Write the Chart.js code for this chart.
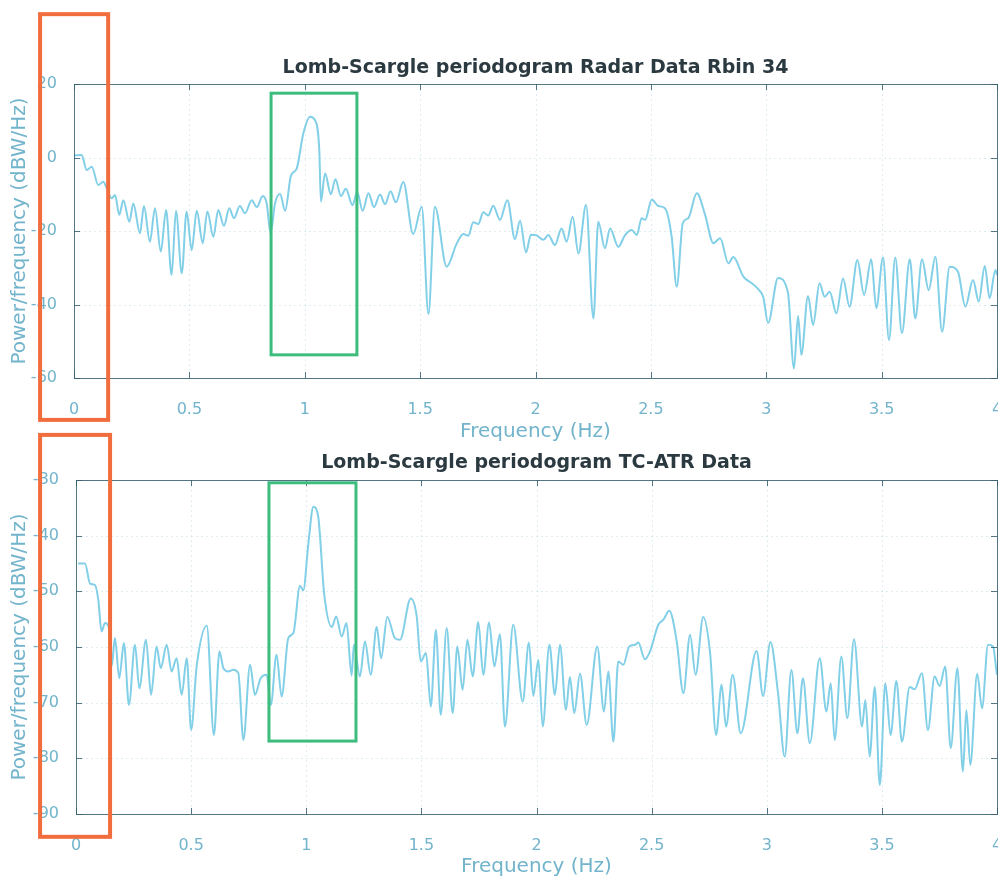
<!DOCTYPE html>
<html>
<head>
<meta charset="utf-8">
<title>Lomb-Scargle periodogram</title>
<script src="https://cdn.jsdelivr.net/npm/chart.js@4.4.1/dist/chart.umd.min.js"></script>
<style>
  html, body { margin: 0; padding: 0; background: #fff; }
  #wrap { position: relative; width: 998px; height: 877px; overflow: hidden; }
  #wrap canvas { position: absolute; left: 0; top: 0; }
</style>
</head>
<body>
<div id="wrap">
  <canvas id="radarChart" width="998" height="877"></canvas>
  <canvas id="atrChart" width="998" height="877"></canvas>
</div>
<script>
// Radar data, range bin 34 (Hz, dBW/Hz)
const radarFreq = [
  0.000, 0.033, 0.055, 0.077, 0.105, 0.127, 0.142, 0.163, 0.178, 0.196,
  0.214, 0.240, 0.257, 0.286, 0.303, 0.329, 0.351, 0.376, 0.399, 0.423,
  0.442, 0.467, 0.488, 0.510, 0.532, 0.558, 0.578, 0.604, 0.625, 0.650,
  0.673, 0.693, 0.719, 0.741, 0.770, 0.792, 0.818, 0.835, 0.852, 0.871,
  0.893, 0.915, 0.940, 0.965, 0.994, 1.023, 1.044, 1.063, 1.070, 1.088,
  1.113, 1.133, 1.157, 1.178, 1.207, 1.227, 1.251, 1.276, 1.300, 1.326,
  1.348, 1.372, 1.395, 1.427, 1.470, 1.507, 1.536, 1.564, 1.615, 1.658,
  1.687, 1.709, 1.730, 1.752, 1.774, 1.795, 1.817, 1.846, 1.878, 1.911,
  1.933, 1.959, 1.980, 2.005, 2.034, 2.056, 2.084, 2.113, 2.135, 2.161,
  2.186, 2.219, 2.251, 2.272, 2.301, 2.323, 2.359, 2.388, 2.417, 2.439,
  2.460, 2.475, 2.504, 2.532, 2.561, 2.590, 2.612, 2.638, 2.662, 2.699,
  2.735, 2.771, 2.800, 2.836, 2.857, 2.901, 2.937, 2.966, 2.987, 3.008,
  3.051, 3.094, 3.120, 3.138, 3.152, 3.181, 3.203, 3.231, 3.253, 3.275,
  3.304, 3.333, 3.361, 3.395, 3.424, 3.455, 3.477, 3.506, 3.532, 3.559,
  3.588, 3.622, 3.646, 3.675, 3.704, 3.733, 3.762, 3.795, 3.831, 3.863,
  3.896, 3.921, 3.947, 3.968, 3.993, 4.000
];
const radarPower = [
  0.5, 0.7, -3.4, -2.5, -7.5, -6.6, -8.4, -11.1, -10.2, -15.6,
  -11.6, -17.5, -12.5, -20.6, -13.2, -22.9, -13.8, -25.6, -14.3, -32.0,
  -14.5, -31.5, -14.7, -25.2, -14.5, -23.3, -14.7, -21.6, -14.3, -18.6,
  -13.8, -16.5, -13.2, -15.2, -11.6, -13.5, -10.5, -12.5, -20.6, -12.5,
  -9.9, -14.5, -5.0, -3.0, 6.6, 11.1, 10.2, 2.0, -12.0, -4.3,
  -10.0, -5.9, -10.5, -8.5, -13.0, -9.3, -14.5, -9.7, -13.5, -10.1,
  -12.7, -9.2, -12.2, -6.7, -20.8, -13.4, -42.6, -13.4, -29.7, -23.5,
  -20.8, -21.3, -17.6, -18.1, -14.9, -15.8, -13.1, -17.0, -11.6, -22.2,
  -17.2, -25.8, -21.0, -21.2, -22.4, -21.1, -23.8, -19.3, -22.9, -16.1,
  -26.1, -12.9, -43.8, -17.5, -24.7, -19.3, -24.3, -21.1, -19.7, -21.1,
  -16.5, -17.0, -11.4, -13.2, -13.8, -21.5, -35.2, -17.9, -16.5, -9.7,
  -15.6, -23.3, -22.0, -28.8, -27.1, -32.4, -34.2, -35.9, -38.0, -45.0,
  -32.8, -36.8, -57.4, -43.1, -53.7, -37.7, -45.6, -34.2, -37.9, -36.5,
  -42.4, -32.9, -40.6, -27.9, -37.4, -27.7, -41.0, -27.2, -49.7, -27.2,
  -47.8, -27.7, -43.8, -27.7, -36.1, -27.0, -47.4, -29.7, -31.1, -40.6,
  -33.3, -39.2, -29.5, -38.3, -30.6, -32.0
];

// TC-ATR data (Hz, dBW/Hz)
const atrFreq = [
  0.009, 0.039, 0.061, 0.083, 0.097, 0.111, 0.126, 0.145, 0.155, 0.169,
  0.188, 0.208, 0.230, 0.256, 0.275, 0.304, 0.326, 0.350, 0.368, 0.394,
  0.415, 0.437, 0.459, 0.481, 0.500, 0.524, 0.568, 0.599, 0.623, 0.640,
  0.662, 0.683, 0.705, 0.727, 0.756, 0.777, 0.802, 0.828, 0.846, 0.871,
  0.893, 0.922, 0.944, 0.973, 0.987, 1.009, 1.031, 1.052, 1.078, 1.111,
  1.130, 1.154, 1.175, 1.197, 1.207, 1.233, 1.255, 1.280, 1.306, 1.325,
  1.352, 1.385, 1.407, 1.454, 1.480, 1.497, 1.520, 1.541, 1.563, 1.584,
  1.610, 1.636, 1.656, 1.679, 1.700, 1.723, 1.747, 1.769, 1.794, 1.817,
  1.841, 1.863, 1.899, 1.940, 1.967, 1.986, 2.008, 2.027, 2.056, 2.080,
  2.102, 2.128, 2.145, 2.164, 2.189, 2.218, 2.264, 2.293, 2.312, 2.334,
  2.355, 2.377, 2.403, 2.428, 2.442, 2.471, 2.493, 2.529, 2.551, 2.577,
  2.609, 2.638, 2.667, 2.691, 2.724, 2.754, 2.780, 2.804, 2.823, 2.852,
  2.887, 2.956, 2.984, 3.016, 3.049, 3.078, 3.107, 3.133, 3.157, 3.187,
  3.230, 3.259, 3.278, 3.295, 3.324, 3.350, 3.379, 3.414, 3.428, 3.447,
  3.469, 3.491, 3.515, 3.538, 3.563, 3.587, 3.621, 3.642, 3.674, 3.700,
  3.729, 3.751, 3.775, 3.799, 3.828, 3.852, 3.867, 3.884, 3.914, 3.935,
  3.961, 3.983, 3.997, 4.000
];
const atrPower = [
  -45.0, -45.0, -48.6, -48.9, -51.6, -57.2, -55.7, -56.9, -63.5, -58.4,
  -65.6, -59.3, -70.4, -59.6, -67.4, -58.7, -68.6, -59.9, -63.8, -59.6,
  -64.4, -62.0, -68.6, -62.0, -74.9, -63.5, -56.2, -75.8, -60.8, -63.8,
  -64.4, -64.1, -64.7, -76.7, -63.2, -68.6, -65.6, -65.0, -70.4, -61.4,
  -68.9, -58.4, -57.5, -49.0, -49.8, -41.5, -34.8, -36.6, -50.5, -56.4,
  -54.5, -58.1, -55.7, -65.1, -59.6, -65.3, -59.0, -65.0, -56.4, -62.0,
  -54.6, -58.4, -58.7, -51.3, -54.6, -62.6, -61.1, -70.7, -56.9, -72.2,
  -56.6, -71.9, -59.9, -67.7, -58.7, -65.3, -55.5, -65.0, -55.6, -63.5,
  -57.7, -74.3, -56.0, -69.8, -59.2, -68.8, -62.3, -74.3, -59.6, -68.6,
  -59.6, -71.3, -65.4, -71.9, -64.8, -74.0, -59.9, -71.6, -64.4, -77.0,
  -62.6, -63.2, -59.9, -59.6, -59.2, -62.2, -60.8, -56.0, -55.1, -53.5,
  -59.0, -68.3, -57.8, -65.0, -54.6, -61.1, -75.8, -66.8, -74.3, -65.0,
  -75.5, -60.7, -68.8, -59.1, -68.3, -79.7, -64.1, -75.5, -65.6, -77.3,
  -62.0, -71.6, -66.5, -76.7, -61.7, -72.8, -58.6, -74.3, -69.5, -79.7,
  -67.2, -84.8, -66.5, -75.8, -66.1, -77.0, -67.2, -67.6, -64.7, -74.9,
  -65.3, -67.0, -63.5, -78.2, -63.8, -82.4, -71.3, -81.2, -64.8, -71.0,
  -59.6, -59.9, -64.1, -65.0
];

// tick values
const freqTicks = [0, 0.5, 1, 1.5, 2, 2.5, 3, 3.5, 4];
const radarPowerTicks = [-60, -40, -20, 0, 20];
const atrPowerTicks = [-90, -80, -70, -60, -50, -40, -30];

const toPoints = (xs, ys) => xs.map((x, i) => ({ x: x, y: ys[i] }));

Chart.defaults.font.family = "'DejaVu Sans', 'Liberation Sans', sans-serif";

const TICK_COLOR = '#72b4cb';
const LINE_COLOR = '#82cfe8';

// dotted grid under the trace, MATLAB style box with inward ticks on top
const matlabFrame = {
  id: 'matlabFrame',
  beforeDatasetsDraw(chart) {
    const { ctx, chartArea: a, scales: { x, y } } = chart;
    ctx.save();
    ctx.strokeStyle = 'rgba(150, 195, 210, 0.3)';
    ctx.lineWidth = 1;
    ctx.setLineDash([2, 3]);
    ctx.beginPath();
    x.ticks.forEach(t => {
      const px = Math.round(x.getPixelForValue(t.value)) + 0.5;
      ctx.moveTo(px, a.top);
      ctx.lineTo(px, a.bottom);
    });
    y.ticks.forEach(t => {
      const py = Math.round(y.getPixelForValue(t.value)) + 0.5;
      ctx.moveTo(a.left, py);
      ctx.lineTo(a.right, py);
    });
    ctx.stroke();
    ctx.restore();
  },
  afterDatasetsDraw(chart) {
    const { ctx, chartArea: a, scales: { x, y } } = chart;
    const len = 6;
    ctx.save();
    ctx.strokeStyle = 'rgba(55, 95, 110, 0.85)';
    ctx.lineWidth = 1;
    ctx.strokeRect(Math.round(a.left) + 0.5, Math.round(a.top) + 0.5,
      Math.round(a.right - a.left), Math.round(a.bottom - a.top));
    ctx.beginPath();
    x.ticks.forEach(t => {
      const px = Math.round(x.getPixelForValue(t.value)) + 0.5;
      ctx.moveTo(px, a.bottom);
      ctx.lineTo(px, a.bottom - len);
      ctx.moveTo(px, a.top);
      ctx.lineTo(px, a.top + len);
    });
    y.ticks.forEach(t => {
      const py = Math.round(y.getPixelForValue(t.value)) + 0.5;
      ctx.moveTo(a.left, py);
      ctx.lineTo(a.left + len, py);
      ctx.moveTo(a.right, py);
      ctx.lineTo(a.right - len, py);
    });
    ctx.stroke();
    ctx.restore();
  }
};

// outlined rectangles given in data units (Hz / dBW/Hz)
const markBoxes = {
  id: 'markBoxes',
  afterDraw(chart, args, opts) {
    const { ctx, scales: { x, y } } = chart;
    ctx.save();
    (opts.boxes || []).forEach(b => {
      const x0 = x.getPixelForValue(b.f0), x1 = x.getPixelForValue(b.f1);
      const y0 = y.getPixelForValue(b.p0), y1 = y.getPixelForValue(b.p1);
      ctx.strokeStyle = b.color;
      ctx.lineWidth = b.width;
      ctx.strokeRect(x0, y0, x1 - x0, y1 - y0);
    });
    ctx.restore();
  }
};

function makeChart(id, opt) {
  return new Chart(document.getElementById(id), {
    type: 'line',
    data: {
      datasets: [{
        data: opt.points,
        borderColor: LINE_COLOR,
        borderWidth: 2,
        pointRadius: 0,
        cubicInterpolationMode: 'monotone',
        fill: false
      }]
    },
    options: {
      responsive: false,
      animation: false,
      layout: { padding: opt.padding },
      plugins: {
        legend: { display: false },
        tooltip: { enabled: false },
        title: {
          display: true,
          text: opt.title,
          color: '#2b3940',
          fullSize: false,
          font: { size: 19, weight: 'bold' },
          padding: opt.titlePadding
        },
        markBoxes: { boxes: opt.boxes }
      },
      scales: {
        x: {
          type: 'linear',
          min: 0,
          max: 4,
          afterBuildTicks: s => { s.ticks = freqTicks.map(v => ({ value: v })); },
          afterFit: s => { s.height = opt.xHeight; s.paddingLeft = 0; s.paddingRight = 0; },
          grid: { display: false },
          border: { display: false },
          ticks: {
            color: TICK_COLOR,
            font: { size: 16 },
            padding: 14,
            maxRotation: 0,
            callback: v => String(v)
          },
          title: {
            display: true,
            text: 'Frequency (Hz)',
            color: TICK_COLOR,
            font: { size: 20 },
            padding: { top: 0, bottom: opt.xTitleBottom }
          }
        },
        y: {
          min: opt.yMin,
          max: opt.yMax,
          afterBuildTicks: s => { s.ticks = opt.yTicks.map(v => ({ value: v })); },
          afterFit: s => { s.width = opt.yWidth; },
          grid: { display: false },
          border: { display: false },
          ticks: { color: TICK_COLOR, font: { size: 16 }, padding: 9 },
          title: {
            display: true,
            text: 'Power/frequency (dBW/Hz)',
            color: TICK_COLOR,
            font: { size: 20 },
            padding: { top: 8, bottom: 0 }
          }
        }
      }
    },
    plugins: [matlabFrame, markBoxes]
  });
}

makeChart('radarChart', {
  points: toPoints(radarFreq, radarPower),
  title: 'Lomb-Scargle periodogram Radar Data Rbin 34',
  padding: { left: 0, right: 1, top: 0, bottom: 433 },
  titlePadding: { top: 56.6, bottom: 4.6 },
  xHeight: 66,
  xTitleBottom: 0,
  yWidth: 74,
  yMin: -60,
  yMax: 20,
  yTicks: radarPowerTicks,
  boxes: [
    { f0: -0.147, f1: 0.148, p0: 39.0, p1: -71.4, color: '#f26d3d', width: 4 },
    { f0: 0.854, f1: 1.226, p0: 17.5, p1: -53.7, color: '#3dbd7d', width: 3 }
  ]
});

makeChart('atrChart', {
  points: toPoints(atrFreq, atrPower),
  title: 'Lomb-Scargle periodogram TC-ATR Data',
  padding: { left: 0, right: 1, top: 440, bottom: 0 },
  titlePadding: { top: 11.6, bottom: 5.6 },
  xHeight: 63,
  xTitleBottom: -2,
  yWidth: 76,
  yMin: -90,
  yMax: -30,
  yTicks: atrPowerTicks,
  boxes: [
    { f0: -0.156, f1: 0.148, p0: -21.9, p1: -94.1, color: '#f26d3d', width: 4 },
    { f0: 0.838, f1: 1.216, p0: -30.5, p1: -76.9, color: '#3dbd7d', width: 3 }
  ]
});
</script>
</body>
</html>
